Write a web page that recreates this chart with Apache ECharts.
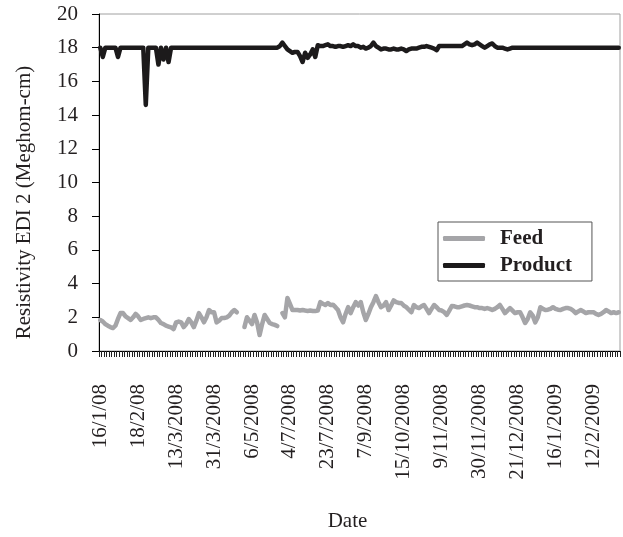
<!DOCTYPE html>
<html>
<head>
<meta charset="utf-8">
<script src="https://cdn.jsdelivr.net/npm/echarts@6/dist/echarts.min.js"></script>
<style>
html,body{margin:0;padding:0;background:#fff;}
#chart{width:623px;height:537px;}
</style>
</head>
<body>
<div id="chart"></div>
<script>
var tickLabels = ['16/1/08','18/2/08','13/3/2008','31/3/2008','6/5/2008','4/7/2008','23/7/2008',
  '7/9/2008','15/10/2008','9/11/2008','30/11/2008','21/12/2008','16/1/2009','12/2/2009'];
var labelEvery = 15;

var feed = [
  1.84,1.75,1.6,1.5,1.42,1.36,1.5,1.9,2.25,2.25,
  2.05,1.95,1.84,2.0,2.2,2.05,1.84,1.9,1.95,2.0,
  1.95,2.0,2.0,1.85,1.66,1.6,1.5,1.45,1.4,1.3,
  1.7,1.75,1.7,1.42,1.6,1.9,1.7,1.42,1.8,2.25,
  2.0,1.7,2.0,2.43,2.3,2.3,1.7,1.8,1.96,1.96,
  2.0,2.1,2.3,2.43,2.3,null,null,1.42,2.0,1.8,
  1.6,2.14,1.7,0.95,1.6,2.14,1.9,1.66,1.6,1.55,
  1.48,null,2.25,2.0,3.15,2.8,2.43,2.43,2.43,2.4,
  2.43,2.4,2.38,2.4,2.37,2.37,2.4,2.9,2.8,2.73,
  2.85,2.73,2.75,2.6,2.43,2.0,1.7,2.2,2.6,2.25,
  2.6,2.9,2.7,2.9,2.3,1.84,2.2,2.6,2.9,3.26,
  2.9,2.6,2.7,2.9,2.43,2.7,3.0,2.9,2.85,2.85,
  2.7,2.6,2.45,2.3,2.73,2.6,2.55,2.65,2.73,2.5,
  2.25,2.5,2.73,2.6,2.43,2.4,2.3,2.14,2.4,2.67,
  2.65,2.6,2.6,2.65,2.7,2.73,2.7,2.65,2.6,2.6,
  2.55,2.55,2.5,2.55,2.5,2.43,2.5,2.6,2.73,2.5,
  2.25,2.4,2.55,2.4,2.25,2.3,2.3,2.0,1.66,1.9,
  2.3,2.1,1.7,2.0,2.6,2.5,2.43,2.45,2.5,2.6,
  2.5,2.45,2.43,2.5,2.55,2.55,2.5,2.4,2.25,2.35,
  2.43,2.35,2.25,2.3,2.3,2.3,2.2,2.14,2.2,2.3,
  2.43,2.35,2.25,2.3,2.25,2.3
];

var product = [
  18,17.45,18,18,18,18,18,17.45,18,18,
  18,18,18,18,18,18,18,18,14.6,18,
  18,18,18,17.0,18,17.3,18,17.15,18,18,
  18,18,18,18,18,18,18,18,18,18,
  18,18,18,18,18,18,18,18,18,18,
  18,18,18,18,18,18,18,18,18,18,
  18,18,18,18,18,18,18,18,18,18,
  18,18.1,18.3,18.1,17.9,17.8,17.7,17.75,17.75,17.5,
  17.15,17.7,17.4,17.6,17.9,17.45,18.15,18.1,18.1,18.15,
  18.2,18.1,18.1,18.05,18.1,18.1,18.05,18.1,18.15,18.1,
  18.2,18.1,18.1,18.0,18.05,17.95,18.0,18.1,18.3,18.1,
  18.0,17.9,17.95,17.95,17.9,17.9,17.95,17.9,17.9,17.95,
  17.9,17.8,17.9,17.95,17.95,17.95,18.0,18.05,18.05,18.1,
  18.05,18.0,17.95,17.85,18.1,18.1,18.1,18.1,18.1,18.1,
  18.1,18.1,18.1,18.1,18.2,18.3,18.2,18.15,18.2,18.3,
  18.2,18.1,18.0,18.1,18.2,18.25,18.1,18.0,18.0,18.0,
  17.95,17.9,17.95,18.0,18,18,18,18,18,18,
  18,18,18,18,18,18,18,18,18,18,
  18,18,18,18,18,18,18,18,18,18,
  18,18,18,18,18,18,18,18,18,18,
  18,18,18,18,18,18
];

var yTicks = {min: 0, max: 20, interval: 2};

var categories = [];
for (var i = 0; i < feed.length; i++) {
  categories.push(i % labelEvery === 0 && tickLabels[i / labelEvery] ? tickLabels[i / labelEvery] : '');
}

var FONT = '"Liberation Serif", "Times New Roman", serif';
var TXT = '#231f20';

var chart = echarts.init(document.getElementById('chart'), null, {renderer: 'canvas'});
chart.setOption({
  animation: false,
  backgroundColor: '#fff',
  grid: {left: 99, right: 3, top: 14, bottom: 186, show: true, borderColor: '#a0a0a0', borderWidth: 1},
  legend: {
    show: true,
    orient: 'vertical',
    left: 438,
    top: 222,
    padding: [6, 20, 5, 5],
    itemGap: 6,
    itemWidth: 42,
    itemHeight: 5,
    icon: 'roundRect',
    borderColor: '#555',
    borderWidth: 1,
    backgroundColor: '#fff',
    textStyle: {fontFamily: FONT, fontSize: 21, fontWeight: 'bold', color: TXT, padding: [0, 0, 0, 10]},
    data: ['Feed', 'Product']
  },
  xAxis: {
    type: 'category',
    data: categories,
    boundaryGap: true,
    name: 'Date',
    nameLocation: 'middle',
    nameGap: 160,
    nameTextStyle: {fontFamily: FONT, fontSize: 21, color: TXT, padding: [0, 24, 0, 0]},
    axisLine: {lineStyle: {color: '#000', width: 1}},
    axisTick: {show: true, interval: 0, length: 6, lineStyle: {color: '#222', width: 1}},
    axisLabel: {interval: 0, rotate: 90, margin: 33, fontFamily: FONT, fontSize: 21, color: TXT},
    splitLine: {show: false}
  },
  yAxis: {
    type: 'value',
    min: yTicks.min,
    max: yTicks.max,
    interval: yTicks.interval,
    name: 'Resistivity EDI 2 (Meghom-cm)',
    nameLocation: 'middle',
    nameRotate: 90,
    nameGap: 64,
    nameTextStyle: {fontFamily: FONT, fontSize: 21, color: TXT, padding: [0, 40, 0, 0]},
    axisLine: {show: true, lineStyle: {color: '#000', width: 1}},
    axisTick: {show: true, length: 7, lineStyle: {color: '#000', width: 1}},
    axisLabel: {margin: 21, fontFamily: FONT, fontSize: 21, color: TXT},
    splitLine: {show: false}
  },
  series: [
    {
      name: 'Feed',
      type: 'line',
      data: feed,
      showSymbol: false,
      symbol: 'none',
      connectNulls: false,
      color: '#a5a5a8',
      lineStyle: {color: '#a5a5a8', width: 4.5, join: 'round', cap: 'round'},
      itemStyle: {color: '#a5a5a8'}
    },
    {
      name: 'Product',
      type: 'line',
      data: product,
      showSymbol: false,
      symbol: 'none',
      color: '#1c1a1b',
      lineStyle: {color: '#1c1a1b', width: 4.5, join: 'round', cap: 'round'},
      itemStyle: {color: '#1c1a1b'}
    }
  ]
});
</script>
</body>
</html>
